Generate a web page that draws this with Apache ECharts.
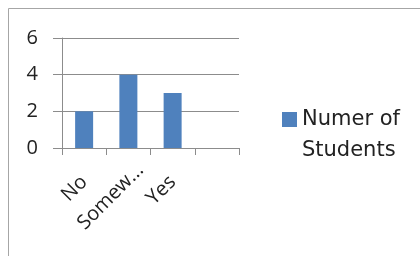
<!DOCTYPE html>
<html>
<head>
<meta charset="utf-8">
<script src="https://cdn.jsdelivr.net/npm/echarts@6/dist/echarts.min.js"></script>
<style>
html,body{margin:0;padding:0;background:#fff;}
#main{width:420px;height:256px;}
</style>
</head>
<body>
<div id="main"></div>
<script>
var categories = ['No', 'Somew...', 'Yes', ''];
var students = [2, 4, 3, '-'];
var seriesName = 'Numer of\nStudents';
var yTicks = [0, 2, 4, 6];

var myChart = echarts.init(document.getElementById('main'));
// legend square sits beside the first text line, so the icon box is padded downward
var legendIcon = 'path://M0,0h15v15h-15z M0,46h0.01v0.01h-0.01z';
// the truncated label sits further along its slant than the others
var xData = categories.map(function (c, i) {
	if (i === 1) return { value: c, textStyle: { padding: [14, -17, 0, 0] } };
	return c;
});
var option = {
	animation: false,
	textStyle: { fontFamily: 'Open Sans' },
	graphic: [{
		type: 'rect',
		shape: { x: 8.5, y: 8.5, width: 440, height: 260 },
		style: { fill: 'none', stroke: '#a6a6a6', lineWidth: 1 },
		silent: true
	}],
	legend: {
		data: [seriesName],
		left: 282,
		top: 104,
		padding: 0,
		icon: legendIcon,
		itemWidth: 15,
		itemHeight: 46,
		textStyle: { fontSize: 21, color: '#222', lineHeight: 31, fontFamily: 'DejaVu Sans' }
	},
	grid: { left: 62, right: 181, top: 38, bottom: 108 },
	xAxis: {
		type: 'category',
		data: xData,
		axisLine: { lineStyle: { color: '#8c8c8c' } },
		axisTick: { show: true, length: 7, lineStyle: { color: '#8c8c8c' } },
		axisLabel: { rotate: 45, color: '#222', fontSize: 20, margin: 31, interval: 0, padding: [18, 0, 0, 0] }
	},
	yAxis: {
		type: 'value',
		min: yTicks[0],
		max: yTicks[yTicks.length - 1],
		interval: 2,
		axisLine: { show: true, lineStyle: { color: '#8c8c8c' } },
		axisTick: { show: true, length: 9, lineStyle: { color: '#8c8c8c' } },
		splitLine: { lineStyle: { color: '#8c8c8c' } },
		axisLabel: { color: '#222', fontSize: 20, margin: 24 }
	},
	series: [{
		name: seriesName,
		type: 'bar',
		data: students,
		barWidth: 18,
		itemStyle: { color: '#4f81bd' }
	}]
};
myChart.setOption(option);
</script>
</body>
</html>
